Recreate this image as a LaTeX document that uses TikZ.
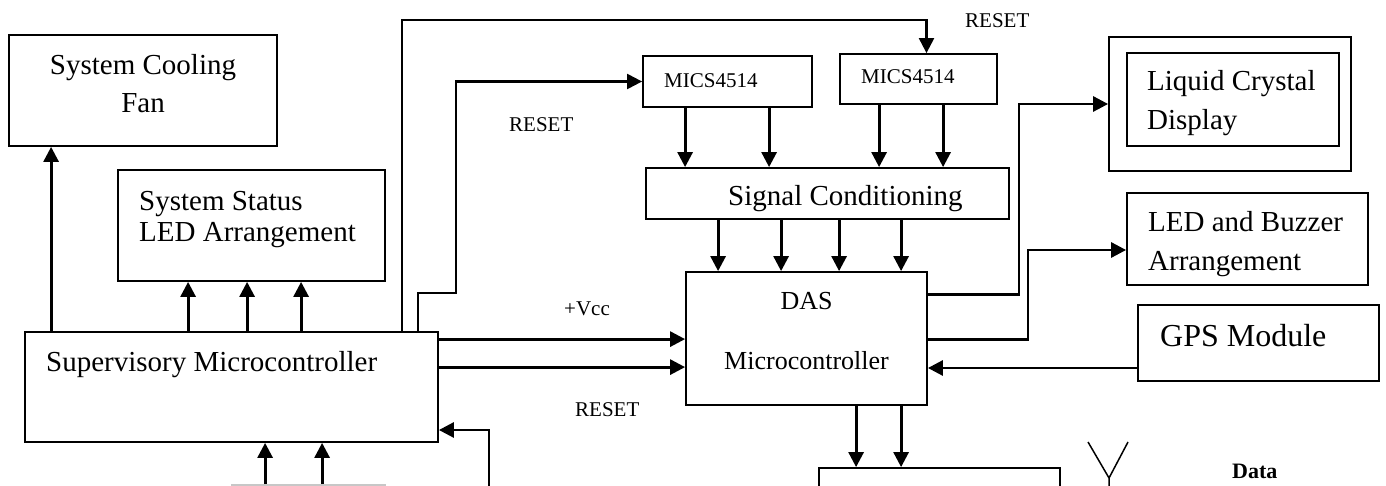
\documentclass[tikz,border=0pt]{standalone}
\usepackage{fontspec}
\setmainfont{Liberation Serif}
\usetikzlibrary{arrows.meta}
\begin{document}
\begin{tikzpicture}[x=1pt,y=-1pt,
  blk/.style={draw, line width=1.8pt, inner sep=0pt},
  conn/.style={line width=2.8pt, -{Triangle[length=15pt,width=15pt]}},
  big/.style={inner sep=0pt, anchor=base west, font=\fontsize{29}{34}\selectfont},
  bigc/.style={inner sep=0pt, anchor=base, font=\fontsize{29}{34}\selectfont},
  mid/.style={inner sep=0pt, anchor=base, font=\fontsize{26}{30}\selectfont},
  small/.style={inner sep=0pt, anchor=base west, font=\fontsize{21}{25}\selectfont}]
\useasboundingbox (0,0) rectangle (1386,486);
\clip (0,0) rectangle (1386,486);

% blocks
\node[blk, minimum width=268pt, minimum height=111pt] (fan)   at (143,90.5) {};
\node[blk, minimum width=267pt, minimum height=111pt] (stat)  at (251.5,225.5) {};
\node[blk, minimum width=413pt, minimum height=110pt] (sup)   at (231.5,387) {};
\node[blk, minimum width=169pt, minimum height=51pt]  (mics1) at (727.5,81.5) {};
\node[blk, minimum width=157pt, minimum height=50pt]  (mics2) at (918.5,79) {};
\node[blk, minimum width=363pt, minimum height=51pt]  (sc)    at (827.5,193.5) {};
\node[blk, minimum width=241pt, minimum height=133pt] (das)   at (806.5,338.5) {};
\node[blk, minimum width=242pt, minimum height=134pt] (lcdo)  at (1230,104) {};
\node[blk, minimum width=212pt, minimum height=93pt]  (lcdi)  at (1233,99.5) {};
\node[blk, minimum width=241pt, minimum height=92pt]  (led)   at (1247.5,239) {};
\node[blk, minimum width=241pt, minimum height=76pt]  (gps)   at (1258.5,343) {};
\node[blk, minimum width=241pt, minimum height=100pt] (tx)    at (939.5,518) {};
\node[blk, draw=black!22, minimum width=153pt, minimum height=100pt] (src) at (308.5,535) {};

% block texts
\node[bigc] (tfan1) at (143,75) {System Cooling};
\node[bigc] (tfan2) at (143,113) {Fan};
\node[big] (tstat1) at (139,211) {System Status};
\node[big] (tstat2) at (139,242) {LED Arrangement};
\node[big] (tsup) at (46,371) {Supervisory Microcontroller};
\node[small] (tm1) at (664,88) {MICS4514};
\node[small] (tm2) at (861,84) {MICS4514};
\node[big] (tsc) at (728,206) {Signal Conditioning};
\node[mid] (tdas1) at (806.5,309) {DAS};
\node[mid] (tdas2) at (806.5,369) {Microcontroller};
\node[big] (tlcd1) at (1147,91) {Liquid Crystal};
\node[big] (tlcd2) at (1147,130) {Display};
\node[big] (tled1) at (1148,232) {LED and Buzzer};
\node[big] (tled2) at (1148,270) {Arrangement};
\node[inner sep=0pt, anchor=base west, font=\fontsize{32}{36}\selectfont] (tgps) at (1160,346) {GPS Module};

% signal labels
\node[small] (lrst1) at (965,28) {RESET};
\node[small] (lrst2) at (509,132) {RESET};
\node[small] (lvcc)  at (564,315) {+Vcc};
\node[small] (lrst3) at (575,416) {RESET};
\node[inner sep=0pt, anchor=base west, font=\fontsize{22}{26}\selectfont\bfseries] (ldata) at (1232,478) {Data};

% supervisory outputs
\draw[conn] ([xshift=27pt]sup.north west) coordinate (c1) -- (c1 |- fan.south);
\foreach \dx in {164,223,277}
  \draw[conn] ([xshift=\dx pt]sup.north west) coordinate (s) -- (s |- stat.south);
\draw[conn, line width=2.2pt] ([xshift=378pt]sup.north west) |- ([xshift=8pt,yshift=33pt]mics2.north) -- ([xshift=8pt]mics2.north);
\draw[conn, line width=2.2pt] ([xshift=394pt]sup.north west) -- ++(0,-38) -- ++(38,0) |- (mics1.west);
\foreach \dy in {8,36}
  \draw[conn] ([yshift=-\dy pt]sup.north east) coordinate (v) -- (v -| das.west);

% sensors to conditioning to DAS
\foreach \dx in {43,127}
  \draw[conn] ([xshift=\dx pt]mics1.south west) coordinate (m) -- (m |- sc.north);
\foreach \dx in {40,104}
  \draw[conn] ([xshift=\dx pt]mics2.south west) coordinate (m) -- (m |- sc.north);
\foreach \dx in {73,136,194,256}
  \draw[conn] ([xshift=\dx pt]sc.south west) coordinate (q) -- (q |- das.north);

% DAS outputs and inputs
\draw[conn] ([yshift=-23pt]das.north east) -- ++(91,0) |- (lcdo.west);
\draw[conn] ([yshift=-68pt]das.north east) -- ++(100,0) |- ([yshift=-11pt]led.west);
\draw[conn] ([yshift=-25pt]gps.west) coordinate (g) -- (g -| das.east);
\foreach \dx in {171,216}
  \draw[conn] ([xshift=\dx pt]das.south west) coordinate (d) -- (d |- tx.north);

% inputs into the supervisory controller
\foreach \dx in {34,91}
  \draw[conn] ([xshift=\dx pt]src.north west) coordinate (u) -- (u |- sup.south);
\coordinate (rin) at (489,500);
\draw[conn] (rin) |- ([yshift=-43pt]sup.east);

% antenna
\draw[line width=1.5pt] (1088,442) -- (1109,478) -- (1128,442) (1109,478) -- (1109,500);
\end{tikzpicture}
\end{document}
